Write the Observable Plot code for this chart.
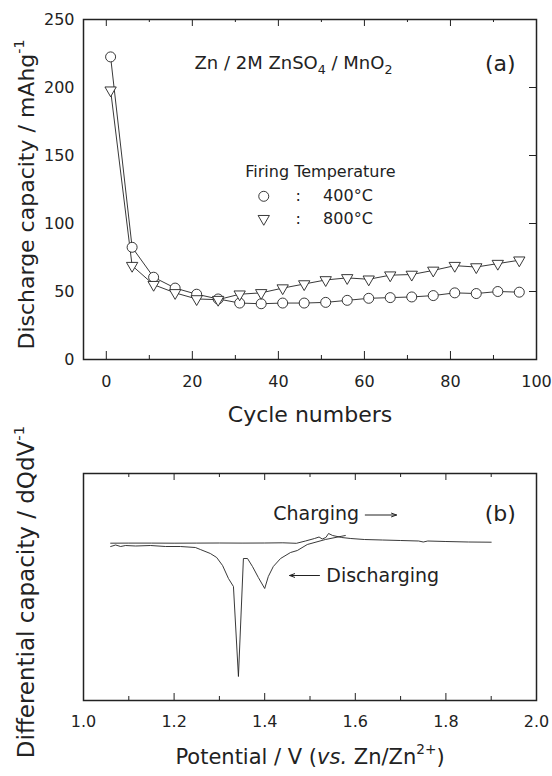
<!DOCTYPE html>
<html><head><meta charset="utf-8">
<script src="https://cdn.jsdelivr.net/npm/d3@7"></script>
<script src="https://cdn.jsdelivr.net/npm/@observablehq/plot@0.6"></script>
<style>
body{margin:0;background:#fff;}
#chart{width:552px;height:776px;position:relative;background:#fff;}
#chart svg{display:block;}
</style></head><body><div id="chart"></div>
<script>
// ---- data (a): discharge capacity vs cycle ----
const cycles = [1,6,11,16,21,26,31,36,41,46,51,56,61,66,71,76,81,86,91,96];
const cap400 = [222.5,82.5,60.5,52.5,48,44.5,41.5,41,41.5,41.5,42,43.5,45,45.5,46,47,49,48.5,50,49.5];
const cap800 = [198,69,55,49,44.5,44,48,49,52.5,55.5,58.5,60,59,62,62.5,65.5,69,68,70.5,73];
const capTicks = [0,50,100,150,200,250];
const capRightTicks = [50,100,150,200];
const cycleTicks = [0,20,40,60,80,100];
const cycleMinor = [10,30,50,70,90];
const seriesLabels = ["400°C","800°C"];

// ---- data (b): differential capacity vs potential (arbitrary units) ----
const chargeV = [1.06,1.10,1.15,1.20,1.25,1.30,1.35,1.40,1.44,1.47,1.49,1.51,1.52,1.527,1.535,1.541,1.55,1.57,1.59,1.62,1.66,1.70,1.74,1.75,1.76,1.80,1.85,1.90];
const chargeQ = [-0.7,-0.6,-0.6,-0.7,-0.6,-0.5,-0.6,-0.5,-0.3,-0.8,1.5,4,5.5,3.5,5,9,7,5,4,3,2.5,2,1.5,0.5,1.5,1,0.5,0.3];
const dischargeV = [1.06,1.071,1.082,1.093,1.115,1.148,1.181,1.214,1.247,1.258,1.28,1.294,1.307,1.32,1.331,1.342,1.353,1.362,1.373,1.386,1.40,1.408,1.419,1.435,1.457,1.472,1.494,1.534,1.578];
const dischargeQ = [-4,-2.5,-4,-3,-3.5,-3,-4,-4,-5,-7,-11,-15,-23,-36,-44,-134,-16,-16,-24,-35,-46,-34,-24,-16,-10,-8,-2,3,7];
const potTicks = [1.0,1.2,1.4,1.6,1.8,2.0];
const potMinor = [1.1,1.3,1.5,1.7,1.9];

const FONT = "DejaVu Sans";
const INK = "#222";
const W = 552;

const s400 = cycles.map((c,i)=>({cycle:c, cap:cap400[i]}));
const s800 = cycles.map((c,i)=>({cycle:c, cap:cap800[i]}));
const charge = chargeV.map((v,i)=>({v, q:chargeQ[i]}));
const discharge = dischargeV.map((v,i)=>({v, q:dischargeQ[i]}));

const topH = 440, tM = {top:19,right:16,bottom:81,left:83};
const tIH = topH - tM.top - tM.bottom, tIW = W - tM.left - tM.right;
const id = d => d;

const topPlot = Plot.plot({
  width: W, height: topH,
  marginTop: tM.top, marginRight: tM.right, marginBottom: tM.bottom, marginLeft: tM.left,
  style: {fontFamily: FONT, fontSize: "16px", color: INK, background: "white", overflow: "visible"},
  x: {domain: [-5.3, 100]},
  y: {domain: [0, 250]},
  marks: [
    Plot.line(s400, {x:"cycle", y:"cap", stroke: INK, strokeWidth: 0.9}),
    Plot.line(s800, {x:"cycle", y:"cap", stroke: INK, strokeWidth: 0.9}),
    Plot.dot(s400, {x:"cycle", y:"cap", r:5, stroke: INK, fill:"white", strokeWidth: 0.9}),
    Plot.dot(s800, {x:"cycle", y:"cap", symbol:"triangle", rotate:180, r:4.2, stroke: INK, fill:"white", strokeWidth: 0.9}),
    Plot.tickX(cycleTicks, {x: id, insetTop: tIH-8, stroke: INK}),
    Plot.tickX(cycleMinor, {x: id, insetTop: tIH-4, stroke: INK}),
    Plot.tickX(cycleTicks, {x: id, insetBottom: tIH-7, stroke: INK}),
    Plot.tickX(cycleMinor, {x: id, insetBottom: tIH-3, stroke: INK}),
    Plot.tickY(capRightTicks, {y: id, insetLeft: tIW-7, stroke: INK}),
    Plot.axisX({ticks: cycleTicks, tickSize: 0, tickPadding: 16, label: null}),
    Plot.axisY({ticks: capTicks, tickSize: 0, tickPadding: 9, label: null}),
    Plot.frame({stroke: INK, strokeWidth: 1.5}),
    Plot.text(["Cycle numbers"], {text: id, frameAnchor: "bottom", dy: 62, fontSize: 22}),
    Plot.text(["Discharge capacity / mAhg-1"], {text: id, frameAnchor: "left", textAnchor: "middle", rotate: -90, dx: -57, dy: 5, fontSize: 22}),
    Plot.text(["Zn / 2M ZnSO4 / MnO2"], {text: id, x: 20.5, y: 217.6, textAnchor: "start", fontSize: 18}),
    Plot.text(["(a)"], {text: id, x: 91.6, y: 217.6, fontSize: 22}),
    Plot.text(["Firing Temperature"], {text: id, x: 32.3, y: 138.2, textAnchor: "start", fontSize: 16}),
    Plot.dot([0], {x: 36.6, y: 120, r: 5, stroke: INK, fill: "white", strokeWidth: 0.9}),
    Plot.dot([0], {x: 36.6, y: 103.5, symbol: "triangle", rotate: 180, r: 4.2, stroke: INK, fill: "white", strokeWidth: 0.9}),
    Plot.text([":", ":"], {text: id, x: 44.6, y: (d,i) => i ? 103.5 : 120, fontSize: 16}),
    Plot.text(seriesLabels, {text: id, x: 50.4, y: (d,i) => i ? 103.5 : 120, textAnchor: "start", fontSize: 16})
  ]
});

const botH = 336, bM = {top:33,right:16,bottom:76,left:83};
const bIH = botH - bM.top - bM.bottom;

const botPlot = Plot.plot({
  width: W, height: botH,
  marginTop: bM.top, marginRight: bM.right, marginBottom: bM.bottom, marginLeft: bM.left,
  style: {fontFamily: FONT, fontSize: "16px", color: INK, background: "white", overflow: "visible"},
  x: {domain: [1, 2]},
  y: {domain: [-158, 69], axis: null},
  marks: [
    Plot.line(charge, {x:"v", y:"q", stroke: INK, strokeWidth: 0.9}),
    Plot.line(discharge, {x:"v", y:"q", stroke: INK, strokeWidth: 0.9}),
    Plot.tickX(potTicks, {x: id, insetTop: bIH-7, stroke: INK}),
    Plot.tickX(potMinor, {x: id, insetTop: bIH-4, stroke: INK}),
    Plot.tickX(potTicks, {x: id, insetBottom: bIH-7, stroke: INK}),
    Plot.tickX(potMinor, {x: id, insetBottom: bIH-4, stroke: INK}),
    Plot.axisX({ticks: potTicks, tickSize: 0, tickPadding: 15, tickFormat: d3.format(".1f"), label: null}),
    Plot.frame({stroke: INK, strokeWidth: 1.5}),
    Plot.text(["Potential / V (vs. Zn/Zn2+)"], {text: id, frameAnchor: "bottom", dy: 63, fontSize: 21}),
    Plot.text(["Differential capacity / dQdV-1"], {text: id, frameAnchor: "left", textAnchor: "middle", rotate: -90, dx: -57, dy: 5, fontSize: 23}),
    Plot.text(["Charging"], {text: id, x: 1.419, y: 29, textAnchor: "start", fontSize: 19}),
    Plot.arrow([0], {x1: 1.622, y1: 27.5, x2: 1.691, y2: 27.5, stroke: INK, strokeWidth: 1, headLength: 8, headAngle: 40}),
    Plot.text(["(b)"], {text: id, x: 1.92, y: 29, fontSize: 22}),
    Plot.arrow([0], {x1: 1.521, y1: -33, x2: 1.455, y2: -33, stroke: INK, strokeWidth: 1, headLength: 8, headAngle: 40}),
    Plot.text(["Discharging"], {text: id, x: 1.536, y: -33, textAnchor: "start", fontSize: 19})
  ]
});

const chart = document.getElementById("chart");
chart.appendChild(topPlot);
chart.appendChild(botPlot);

const rich = {
  "Zn / 2M ZnSO4 / MnO2": [["Zn / 2M ZnSO"],["4","sub"],[" / MnO"],["2","sub"]],
  "Discharge capacity / mAhg-1": [["Discharge capacity / mAhg"],["-1","sup"]],
  "Differential capacity / dQdV-1": [["Differential capacity / dQdV"],["-1","sup"]],
  "Potential / V (vs. Zn/Zn2+)": [["Potential / V ("],["vs.","it"],[" Zn/Zn"],["2+","sup"],[")"]]
};
chart.querySelectorAll("text").forEach(t => {
  const parts = rich[t.textContent];
  if (!parts) return;
  const fs = parseFloat(getComputedStyle(t).fontSize);
  t.textContent = "";
  let shift = 0;
  for (const [s, kind] of parts) {
    const ts = document.createElementNS("http://www.w3.org/2000/svg", "tspan");
    ts.textContent = s;
    let target = 0;
    if (kind === "sub") { target = 0.25 * fs; ts.setAttribute("font-size", 0.7 * fs); }
    else if (kind === "sup") { target = -0.45 * fs; ts.setAttribute("font-size", 0.65 * fs); }
    else if (kind === "it") ts.setAttribute("font-style", "italic");
    if (target !== shift) { ts.setAttribute("dy", target - shift); shift = target; }
    t.appendChild(ts);
  }
});
</script></body></html>
